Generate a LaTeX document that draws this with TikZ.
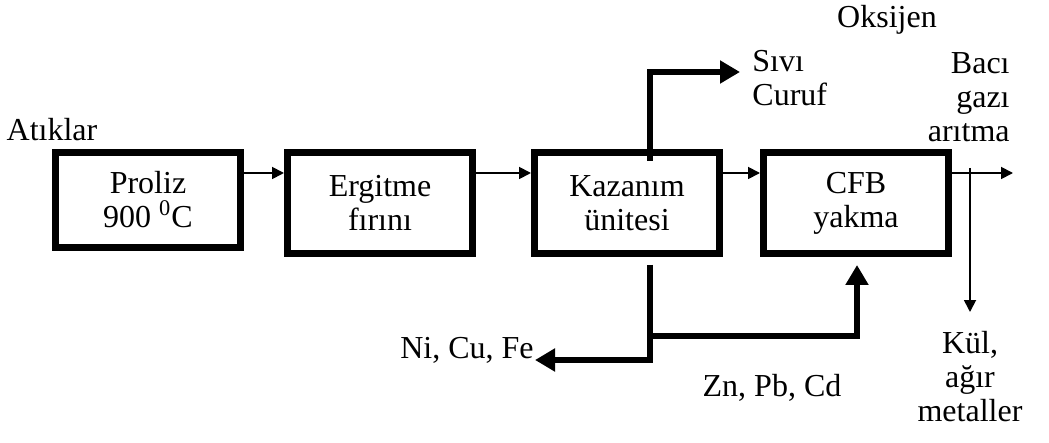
\documentclass[tikz,border=0pt]{standalone}
\usepackage{fontspec}
\setmainfont{Liberation Serif}
\usetikzlibrary{arrows.meta, positioning, calc}

\begin{document}
\begin{tikzpicture}[
  x=0.5pt, y=-0.5pt,
  every node/.style={font=\fontsize{16}{17}\selectfont},
  unit/.style={
    draw, line width=3.5pt, minimum width=92.5pt, minimum height=50.5pt,
    align=center, inner sep=0pt
  },
  tag/.style={align=center, inner sep=0pt},
  flow/.style={-{Triangle[length=6pt, width=6pt]}, line width=0.9pt},
  heavy/.style={-{Triangle[length=10pt, width=11pt]}, line width=3.2pt}
]
\useasboundingbox (0,0) rectangle (1049,443);

% Process units along the main line
\node[unit, minimum height=47.5pt] (proliz) at (148,200) {Proliz\\900 \textsuperscript{0}C};
\node[unit] (ergitme) at (380,203) {Ergitme\\fırını};
\node[unit] (kazanim) at (627,203) {Kazanım\\ünitesi};
\node[unit] (cfb) at (856,203) {CFB\\yakma};

% Texts
\node[tag] (atiklar) at (52,130) {Atıklar};
\node[tag] (oksijen) at (887,20) {Oksijen};
\node[tag, align=left, anchor=west] (curuf) at (752,78) {Sıvı\\Curuf};
\node[tag, align=right, anchor=east] (baca) at (1010,97) {Bacı\\gazı\\arıtma};
\node[tag] (nicufe) at (467,350) {Ni, Cu, Fe};
\node[tag] (znpbcd) at (772,388) {Zn, Pb, Cd};
\node[tag] (kul) at (970,377) {Kül,\\ağır\\metaller};

% Free ends
\coordinate (sivi) at (740,72);
\coordinate (metal) at (535,360);
\coordinate (stack) at (1013,173);
\coordinate (tap) at (970,168);
\coordinate (ash) at (970,312);

% Main flow
\draw[flow] (proliz.east |- stack) -- (ergitme.west |- stack);
\draw[flow] (ergitme.east |- stack) -- (kazanim.west |- stack);
\draw[flow] (kazanim.east |- stack) -- (cfb.west |- stack);
\draw[flow] (cfb.east |- stack) -- (stack);
\draw[flow] (tap) -- (ash);

% Side streams of the recovery unit
\draw[heavy] ([xshift=11.5pt,yshift=-6pt]kazanim.north) |- (sivi);
\draw[heavy] ([xshift=11.5pt,yshift=-4pt]kazanim.south) |- (metal);
\draw[heavy] ([xshift=11.5pt,yshift=-4pt]kazanim.south) -- ++(0,71) -| ([xshift=0.5pt,yshift=-4pt]cfb.south);

\end{tikzpicture}
\end{document}
